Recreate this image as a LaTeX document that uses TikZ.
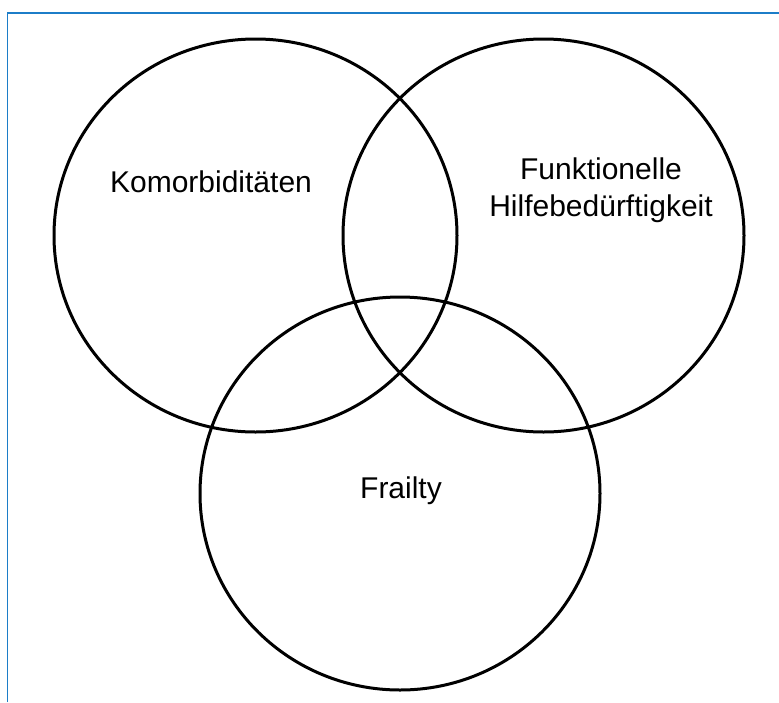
\documentclass[tikz,border=0pt]{standalone}
\usepackage{fontspec}
\usetikzlibrary{shapes.geometric}
\setmainfont{Liberation Sans}
\definecolor{frameblue}{RGB}{28,125,200}
\begin{document}
\begin{tikzpicture}[x=1pt,y=-1pt,
  ring/.style={draw=black,line width=3pt,ellipse,inner sep=0pt},
  lbl/.style={font=\fontsize{30}{37}\selectfont,align=center,inner sep=0pt}]
\useasboundingbox (0,0) rectangle (779,702);
\fill[white] (0,0) rectangle (779,702);
\coordinate (fa) at (7.5,702);
\coordinate (fb) at (7.5,13);
\coordinate (fc) at (779,13);
\draw[frameblue,line width=1.6pt] (fa) -- (fb) -- (fc);
\node[ring,minimum width=403pt,minimum height=393pt] (kom) at (255.5,235.5) {};
\node[ring,minimum width=401pt,minimum height=393pt] (fun) at (543.5,235.5) {};
\node[ring,minimum width=400pt,minimum height=393pt] (fra) at (400,493.5) {};
\node[lbl] (tk) at (211,182) {Komorbiditäten};
\node[lbl] (tf) at (601,190) {Funktionelle\\Hilfebedürftigkeit};
\node[lbl] (tr) at (401,491) {Frailty};
\end{tikzpicture}
\end{document}
